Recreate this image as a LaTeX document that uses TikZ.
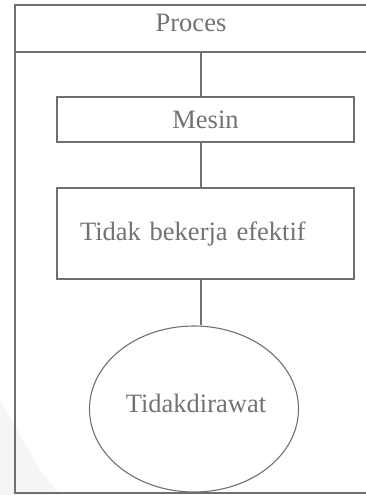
\documentclass[tikz,border=0pt]{standalone}
\usepackage{fontspec}
\setmainfont{Liberation Serif}
\usetikzlibrary{shapes.geometric}
\definecolor{ln}{HTML}{707070}
\definecolor{tx}{HTML}{727272}
\begin{document}
\begin{tikzpicture}[x=1pt,y=-1pt,
  frame/.style={draw=ln,line width=2.6pt},
  boxnode/.style={draw=ln,line width=2.4pt,rectangle,inner sep=0pt,font=\fontsize{26.5}{30}\selectfont,text=tx},
  link/.style={draw=ln,line width=2.4pt},
  lbl/.style={font=\fontsize{26.5}{30}\selectfont,text=tx,inner sep=0pt}]
\useasboundingbox (0,0) rectangle (366,495);
\fill[gray!8] (0,495) -- (0,400) -- (40,470) -- (60,495) -- cycle;
% frame
\draw[frame] (366,5) -- (15,5) -- (15,493) -- (366,493);
\draw[frame] (15,52) -- (366,52);
\node[lbl,anchor=base] (proc) at (191,32) {Proces};
\coordinate (top) at (201,52);
% Mesin
\node[boxnode,minimum width=297pt,minimum height=45pt] (mesin) at (205.5,119.5) {Mesin};
% Tidak bekerja efektif
\node[boxnode,minimum height=91pt,text width=251pt,align=left,inner xsep=23pt] (tidak) at (205.5,233.5) {Tidak bekerja efektif};
% ellipse
\node[ellipse,draw=ln,line width=1.1pt,minimum width=209pt,minimum height=166pt,inner sep=0pt] (rawat) at (194,409) {};
\node[lbl,anchor=base] (rawatlbl) at (196,412) {Tidakdirawat};
% connectors
\draw[link] (top) -- (mesin.north -| top);
\draw[link] (mesin.south -| top) -- (tidak.north -| top);
\draw[link] (tidak.south -| top) -- (rawat.north -| top);
\end{tikzpicture}
\end{document}
